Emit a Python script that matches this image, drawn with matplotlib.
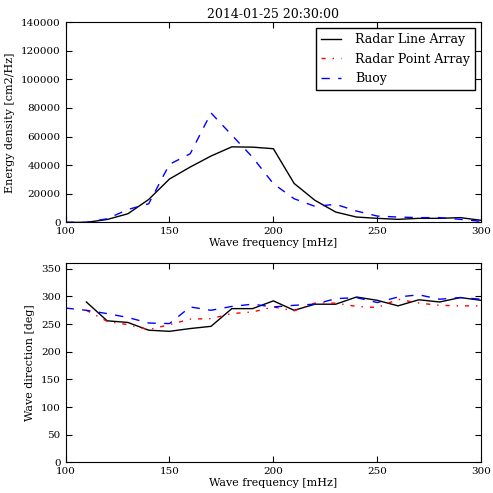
import matplotlib
matplotlib.use('Agg')
import matplotlib.pyplot as plt
import numpy as np

# frequencies [mHz]
freq = np.arange(100, 301, 10)

# energy density [cm2/Hz]
energy_line = [0, 0, 2000, 6000, 16000, 30300, 38700, 46400, 52800, 52600, 51500,
               27200, 15400, 7200, 3700, 2800, 2100, 2800, 2800, 3300, 1400]
energy_point = [np.nan] * 21
energy_buoy = [0, 0, 2500, 9000, 13000, 40600, 48000, 76500, 61000, 45500, 27000,
               16500, 11200, 12600, 7900, 4400, 3700, 3300, 3300, 2100, 700]

# wave direction [deg]
dir_line = [np.nan, 290, 256, 253, 239, 237, 242, 246, 278, 278, 292,
            275, 286, 286, 299, 293, 283, 294, 290, 298, 293]
dir_point = [np.nan, 275, 255, 249, 240, 249, 259, 260, 269, 272, 281,
             274, 288, 288, 282, 280, 295, 288, 284, 283, 283]
dir_buoy = [279, 275, 269, 262, 252, 251, 281, 275, 282, 286, 281,
            284, 286, 296, 298, 289, 299, 303, 295, 298, 295]

plt.rcParams['font.family'] = 'DejaVu Serif'
plt.rcParams['xtick.direction'] = 'in'
plt.rcParams['ytick.direction'] = 'in'
plt.rcParams['xtick.top'] = True
plt.rcParams['ytick.right'] = True
plt.rcParams['xtick.labelsize'] = 7.5
plt.rcParams['ytick.labelsize'] = 7.5
plt.rcParams['axes.labelsize'] = 8
plt.rcParams['xtick.major.size'] = 4
plt.rcParams['ytick.major.size'] = 4
# old-style dash patterns
plt.rcParams['lines.scale_dashes'] = False
plt.rcParams['lines.dashed_pattern'] = [6, 6]
plt.rcParams['lines.dashdot_pattern'] = [3, 5, 1, 5]

fig = plt.figure(figsize=(4.93, 4.93), dpi=100)
ax1 = fig.add_axes([0.133, 0.549, 0.843, 0.406])
ax2 = fig.add_axes([0.133, 0.062, 0.843, 0.404])

ax1.plot(freq, energy_line, '-', color='black', lw=1, label='Radar Line Array')
ax1.plot(freq, energy_point, '-.', color='red', lw=1, label='Radar Point Array')
ax1.plot(freq, energy_buoy, '--', color='blue', lw=1, label='Buoy')
ax1.set_xlim(100, 300)
ax1.set_ylim(0, 140000)
ax1.set_xticks(np.arange(100, 301, 50))
ax1.set_xlabel('Wave frequency [mHz]', labelpad=1)
ax1.set_ylabel('Energy density [cm2/Hz]')
ax1.set_title('2014-01-25 20:30:00', fontsize=9, pad=3)
leg = ax1.legend(loc='upper right', fontsize=9, fancybox=False, framealpha=1,
                 edgecolor='black', handlelength=1.6, handletextpad=1.1)
leg.get_frame().set_linewidth(1)

ax2.plot(freq, dir_line, '-', color='black', lw=1)
ax2.plot(freq, dir_point, '-.', color='red', lw=1)
ax2.plot(freq, dir_buoy, '--', color='blue', lw=1)
ax2.set_xlim(100, 300)
ax2.set_ylim(0, 360)
ax2.set_xticks(np.arange(100, 301, 50))
ax2.set_yticks(np.arange(0, 351, 50))
ax2.set_xlabel('Wave frequency [mHz]', labelpad=1)
ax2.set_ylabel('Wave direction [deg]')

fig.savefig('out.png', dpi=100)
